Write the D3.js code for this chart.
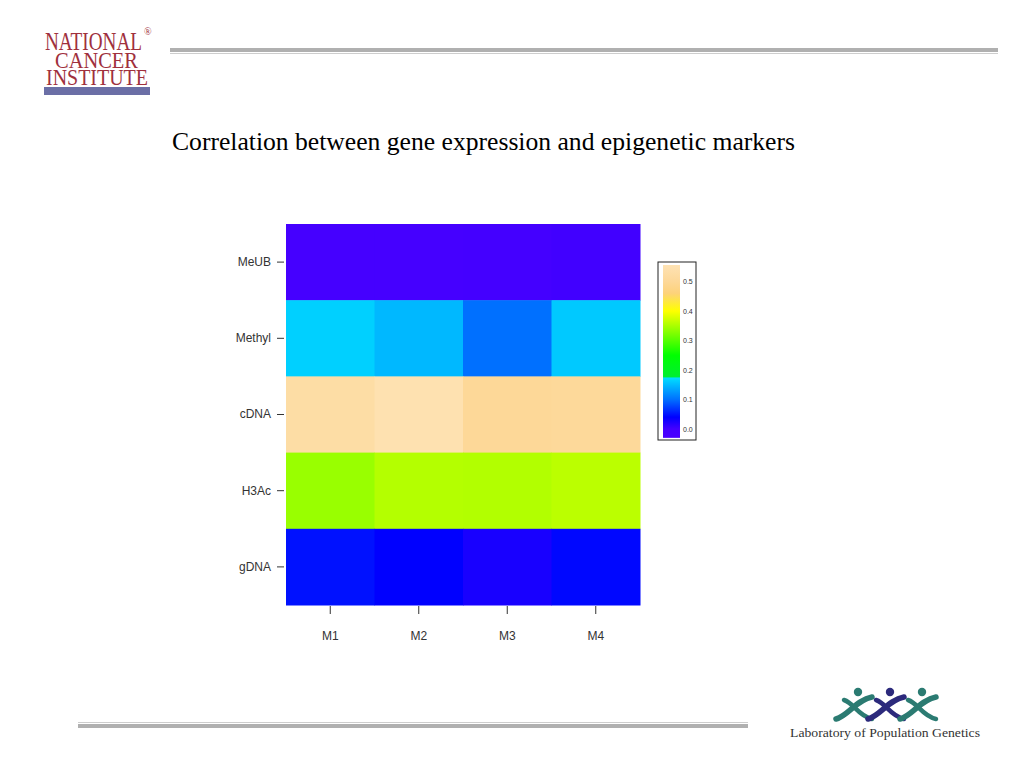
<!DOCTYPE html>
<html><head><meta charset="utf-8">
<script src="https://cdn.jsdelivr.net/npm/d3@7"></script>
<style>html,body{margin:0;padding:0;background:#fff;}svg{display:block;}</style>
</head><body>
<svg id="c" width="1024" height="768"></svg>
<script>
// ---- data ----
const columns = ["M1", "M2", "M3", "M4"];
const rows = ["MeUB", "Methyl", "cDNA", "H3Ac", "gDNA"];
const meub   = [-0.005, -0.003, 0.000, 0.002];
const methyl = [0.164, 0.148, 0.100, 0.159];
const cdna   = [0.526, 0.548, 0.500, 0.504];
const h3ac   = [0.340, 0.356, 0.355, 0.360];
const gdna   = [0.049, 0.040, 0.026, 0.044];
const legendTicks = [0.0, 0.1, 0.2, 0.3, 0.4, 0.5];
const colorStops = [-0.03, 0.0, 0.04, 0.10, 0.172, 0.178, 0.25, 0.40, 0.46, 0.50, 0.556];
const colorRange = ["#4b00ff","#4400ff","#0000ff","#0070ff","#00dcff","#00ee30","#00ff00","#ffff00","#fdd27a","#fdd898","#fee2b4"];
const title = "Correlation between gene expression and epigenetic markers";

const seriesByRow = [meub, methyl, cdna, h3ac, gdna];
const cells = [];
rows.forEach((r, i) => columns.forEach((c, j) => cells.push({row: r, col: c, v: seriesByRow[i][j]})));

const svg = d3.select("#c");
const color = d3.scaleLinear().domain(colorStops).range(colorRange).clamp(true);

// ---- header / footer rules ----
svg.append("rect").attr("x", 170).attr("y", 48).attr("width", 828).attr("height", 4).attr("fill", "#b0b0b0");
svg.append("rect").attr("x", 170).attr("y", 53).attr("width", 828).attr("height", 1).attr("fill", "#cdcdcd");
svg.append("rect").attr("x", 78).attr("y", 722).attr("width", 670).attr("height", 1).attr("fill", "#cdcdcd");
svg.append("rect").attr("x", 78).attr("y", 724).attr("width", 670).attr("height", 4).attr("fill", "#b0b0b0");

// NCI logo (single text block with stacked lines)
const logo = svg.append("text").attr("font-family", "Liberation Serif, serif").attr("fill", "#a0303d");
logo.append("tspan").attr("x", 45).attr("y", 50).attr("font-size", 26).attr("textLength", 97).attr("lengthAdjust", "spacingAndGlyphs").text("NATIONAL");
logo.append("tspan").attr("x", 144).attr("y", 35).attr("font-size", 10).text("®");
logo.append("tspan").attr("x", 55).attr("y", 67.5).attr("font-size", 24).attr("textLength", 83).attr("lengthAdjust", "spacingAndGlyphs").text("CANCER");
logo.append("tspan").attr("x", 46).attr("y", 85).attr("font-size", 24).attr("textLength", 102).attr("lengthAdjust", "spacingAndGlyphs").text("INSTITUTE");
svg.append("rect").attr("x", 44).attr("y", 87).attr("width", 106).attr("height", 8).attr("fill", "#6b6fa6");

// Lab of Population Genetics logo
const lg = svg.append("g");
const teal = "#2b7b72", navy = "#2c2a7c";
const figs = [[840, teal], [872, navy], [904, teal]];
figs.forEach(([x0, col]) => {
  lg.append("path").attr("d", `M${x0-4},${719} C${x0+8},${716} ${x0+16},${700} ${x0+32},${697}`)
    .attr("fill", "none").attr("stroke", col).attr("stroke-width", 5.5).attr("stroke-linecap", "round");
  lg.append("path").attr("d", `M${x0+4},${700} C${x0+14},${703} ${x0+18},${716} ${x0+32},${719}`)
    .attr("fill", "none").attr("stroke", col).attr("stroke-width", 4.5).attr("stroke-linecap", "round");
  lg.append("circle").attr("cx", x0 + 18).attr("cy", 692).attr("r", 4.2).attr("fill", col);
});
lg.append("text").attr("x", 790).attr("y", 737).attr("font-family", "Liberation Serif, serif").attr("font-size", 12.5)
  .attr("fill", "#333").attr("textLength", 190).attr("lengthAdjust", "spacingAndGlyphs").text("Laboratory of Population Genetics");

// title
svg.append("text").attr("x", 172).attr("y", 150).attr("font-family", "Liberation Serif, serif").attr("font-size", 25.5)
  .attr("fill", "#000").attr("textLength", 623).attr("lengthAdjust", "spacingAndGlyphs").text(title);

// ---- heatmap ----
const x = d3.scaleBand().domain(columns).range([286, 640]);
const y = d3.scaleBand().domain(rows).range([224, 605]);

svg.append("g").selectAll("rect").data(cells).join("rect")
  .attr("x", d => x(d.col)).attr("y", d => y(d.row))
  .attr("width", x.bandwidth() + 0.5).attr("height", y.bandwidth() + 0.5)
  .attr("fill", d => color(d.v));

const axFont = "Liberation Sans, Arial, sans-serif";
const yAx = svg.append("g").attr("transform", "translate(284,0)")
  .call(d3.axisLeft(y).tickSize(7).tickPadding(6));
yAx.select(".domain").remove();
yAx.selectAll("line").attr("stroke", "#333");
yAx.selectAll("text").attr("font-family", axFont).attr("font-size", 12).attr("fill", "#333");

const xAx = svg.append("g").attr("transform", "translate(0,606)")
  .call(d3.axisBottom(x).tickSize(8).tickPadding(17));
xAx.select(".domain").remove();
xAx.selectAll("line").attr("stroke", "#333");
xAx.selectAll("text").attr("font-family", axFont).attr("font-size", 12).attr("fill", "#333");

// ---- legend ----
const ly = d3.scaleLinear().domain([0, 0.5]).range([429, 281.5]);
const barTop = ly(0.556), barBot = ly(-0.03);
const defs = svg.append("defs");
const grad = defs.append("linearGradient").attr("id", "lgrad").attr("x1", 0).attr("y1", 1).attr("x2", 0).attr("y2", 0);
colorStops.forEach(s => grad.append("stop")
  .attr("offset", (s - (-0.03)) / (0.556 + 0.03))
  .attr("stop-color", color(s)));
svg.append("rect").attr("x", 658).attr("y", 262).attr("width", 38).attr("height", 178)
  .attr("fill", "#fff").attr("stroke", "#222").attr("stroke-width", 1);
svg.append("rect").attr("x", 663).attr("y", barTop).attr("width", 17).attr("height", barBot - barTop).attr("fill", "url(#lgrad)");
const lAx = svg.append("g").attr("transform", "translate(681,0)")
  .call(d3.axisRight(ly).tickValues(legendTicks).tickSize(0).tickPadding(2).tickFormat(d3.format(".1f")));
lAx.select(".domain").remove();
lAx.selectAll("text").attr("font-family", axFont).attr("font-size", 7).attr("fill", "#333");
</script>
</body></html>
